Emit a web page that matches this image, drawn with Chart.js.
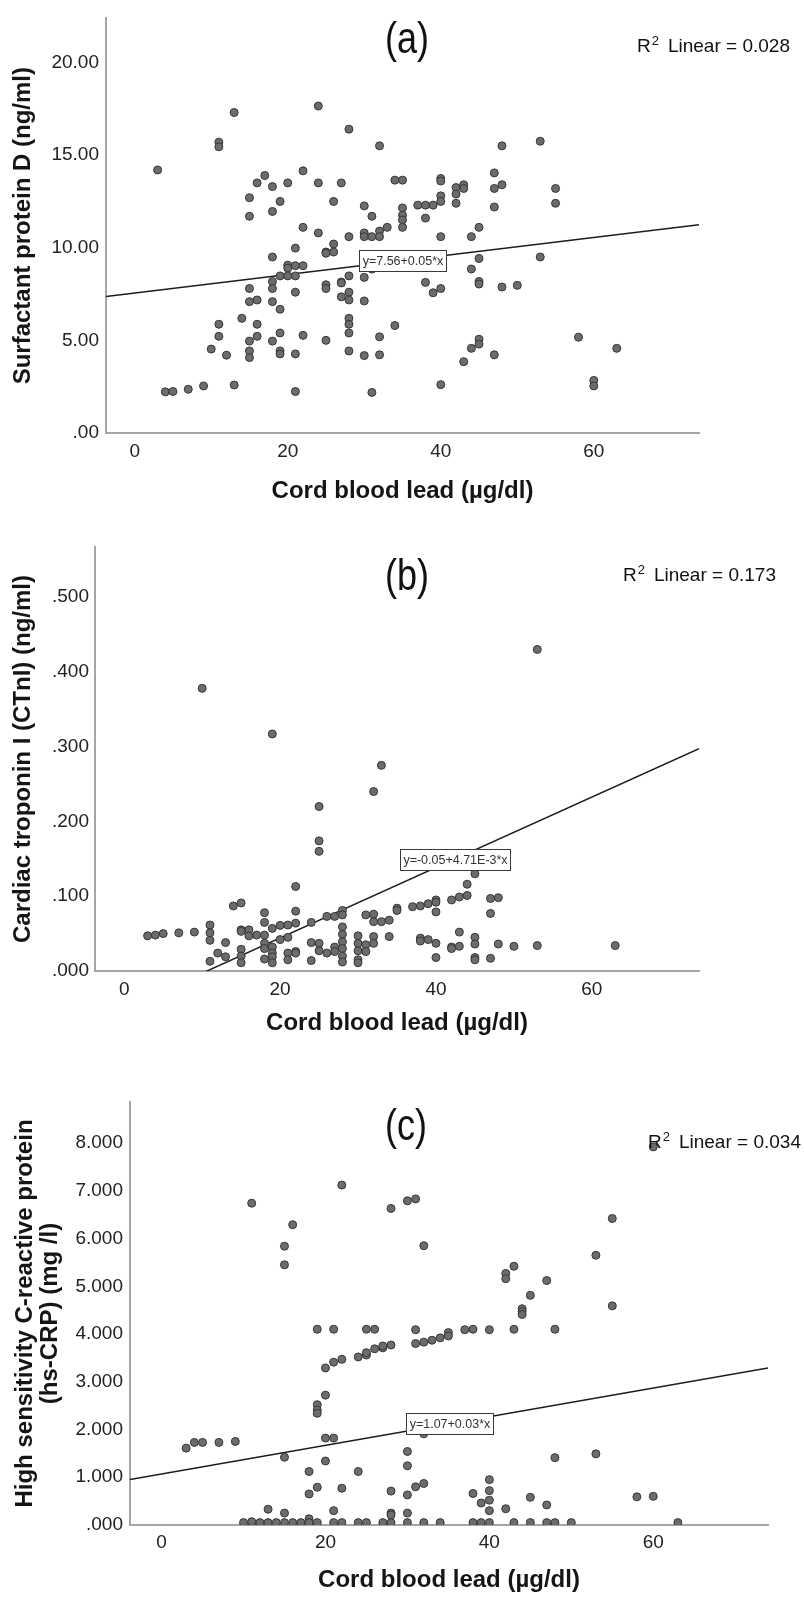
<!DOCTYPE html>
<html>
<head>
<meta charset="utf-8">
<script src="https://cdn.jsdelivr.net/npm/chart.js@4.4.1/dist/chart.umd.min.js"></script>
<style>
  html, body { margin: 0; padding: 0; background: #fff; }
  body { width: 804px; height: 1597px; position: relative; overflow: hidden; }
  .panel { position: absolute; left: 0; width: 804px; }
  canvas { display: block; }
</style>
</head>
<body>
<div class="panel" style="top:0"><canvas id="chartA" width="804" height="520"></canvas></div>
<div class="panel" style="top:520px"><canvas id="chartB" width="804" height="540"></canvas></div>
<div class="panel" style="top:1060px"><canvas id="chartC" width="804" height="537"></canvas></div>
<script>
// ---- data ----
const xTicks = [0, 20, 40, 60];

// (a) Surfactant protein D
const leadA = [3,4,5,7,9,10,11,11,11,11,12,13,13,14,15,15,15,15,15,15,15,16,16,16,16,17,18,18,18,18,18,18,18,
  19,19,19,19,19,19,20,20,20,20,21,21,21,21,21,21,22,22,22,22,24,24,24,25,25,25,25,25,26,26,26,27,27,27,27,
  28,28,28,28,28,28,28,28,28,30,30,30,30,30,30,31,31,31,31,32,32,32,32,32,33,34,34,35,35,35,35,35,37,38,38,38,
  39,39,40,40,40,40,40,40,40,42,42,42,43,43,43,44,44,44,45,45,45,45,45,45,47,47,47,47,48,48,48,50,53,53,55,55,
  58,60,60,63];
const surfactantD = [14.2,2.22,2.24,2.36,2.54,4.53,15.7,15.45,5.87,5.22,4.2,17.3,2.59,6.19,12.7,11.7,7.8,7.09,4.96,4.43,4.07,
  13.5,7.18,5.87,5.22,13.9,13.3,11.96,9.5,8.18,7.8,7.09,4.96,12.5,8.48,6.68,5.4,4.43,4.27,13.5,9.06,8.9,8.48,
  9.98,9.03,8.48,7.6,4.27,2.24,14.15,11.1,9.03,5.27,17.65,13.5,10.8,9.77,9.7,8.0,7.8,5.0,12.5,10.2,9.77,
  13.5,8.15,8.1,7.35,16.4,10.6,8.48,7.6,7.18,6.19,5.87,5.4,4.43,12.26,10.8,10.6,8.4,7.13,4.18,11.7,10.6,8.85,2.19,
  15.5,10.9,10.6,5.19,4.22,11.1,13.65,5.8,13.65,12.15,11.76,11.5,11.1,12.3,12.3,11.6,8.13,12.3,7.57,
  13.74,13.6,12.8,12.5,10.6,7.8,2.61,13.25,12.9,12.4,13.4,13.2,3.85,10.6,8.85,4.57,11.1,9.42,8.18,8.04,5.06,4.8,
  14.04,13.2,12.2,4.22,15.5,13.4,7.88,7.97,15.75,9.5,13.2,12.4,5.17,2.84,2.54,4.57];
const yTicksA = [0, 5, 10, 15, 20];
const yLabelsA = ['.00', '5.00', '10.00', '15.00', '20.00'];
const fitA = [7.56, 0.05];

// (b) Cardiac troponin I
const leadB = [3,4,5,7,9,10,11,11,11,11,12,13,13,14,15,15,15,15,15,15,16,16,17,18,18,18,18,18,18,
  19,19,19,19,19,19,20,20,21,21,21,21,22,22,22,22,22,24,24,24,25,25,25,25,25,26,26,27,27,27,
  28,28,28,28,28,28,28,28,30,30,30,30,30,31,31,31,32,32,32,32,32,33,33,34,34,35,35,37,38,38,38,39,39,
  40,40,40,40,40,42,42,42,43,43,43,44,44,45,45,45,45,45,47,47,47,48,48,50,53,53,63];
const troponinI = [0.047,0.048,0.050,0.051,0.052,0.378,0.0615,0.051,0.041,0.013,0.024,0.019,0.038,0.087,
  0.091,0.055,0.053,0.029,0.020,0.011,0.055,0.047,0.048,0.078,0.065,0.048,0.037,0.030,0.016,
  0.317,0.057,0.032,0.024,0.019,0.011,0.061,0.042,0.0615,0.045,0.024,0.015,0.113,0.080,0.064,0.026,0.024,
  0.065,0.038,0.014,0.22,0.174,0.160,0.037,0.027,0.073,0.024,0.073,0.032,0.026,
  0.081,0.075,0.059,0.049,0.039,0.030,0.020,0.012,0.047,0.037,0.027,0.015,0.011,0.075,0.035,0.026,
  0.24,0.076,0.066,0.046,0.037,0.275,0.066,0.068,0.046,0.084,0.081,0.086,0.087,0.044,0.040,0.090,0.042,
  0.095,0.092,0.079,0.037,0.018,0.095,0.032,0.030,0.099,0.052,0.033,0.116,0.101,0.130,0.045,0.036,0.018,0.015,
  0.097,0.077,0.017,0.098,0.036,0.033,0.43,0.034,0.034];
const yTicksB = [0, 0.1, 0.2, 0.3, 0.4, 0.5];
const yLabelsB = ['.000', '.100', '.200', '.300', '.400', '.500'];
const fitB = [-0.05, 0.00471];

// (c) hs-CRP
const leadC = [3,4,5,7,9,10,11,11,11,12,13,13,14,15,15,15,15,15,16,16,17,18,18,18,18,
  19,19,19,19,19,19,20,20,20,20,21,21,21,21,21,22,22,22,22,24,24,24,25,25,25,25,26,26,27,27,27,
  28,28,28,28,28,28,30,30,30,30,30,30,31,31,31,31,32,32,32,32,32,33,34,34,35,35,37,38,38,38,39,39,
  40,40,40,40,40,40,42,42,42,43,43,43,44,44,44,45,45,45,47,47,47,48,48,48,50,53,53,55,55,58,60,60,63];
const hsCRP = [1.61,1.73,1.73,1.73,1.75,0.05,6.74,0.05,0.07,0.05,0.33,0.05,0.05,5.84,5.45,1.42,0.25,0.05,6.29,0.05,0.05,
  1.12,0.65,0.13,0.05,4.10,2.52,2.41,2.34,0.79,0.05,3.29,2.72,1.82,1.34,4.10,3.41,1.82,0.30,0.05,
  7.12,3.47,0.77,0.05,3.52,1.12,0.05,4.10,3.56,3.61,0.05,4.10,3.69,3.71,3.75,0.05,
  6.63,3.77,0.71,0.25,0.21,0.05,6.79,1.54,1.24,0.63,0.25,0.05,6.83,4.09,3.80,0.80,5.85,3.83,1.91,0.87,0.05,
  3.87,3.92,0.05,4.03,3.96,4.09,4.10,0.66,0.05,0.46,0.05,4.09,0.95,0.72,0.52,0.30,0.05,5.27,5.16,0.34,
  5.42,4.10,0.05,4.53,4.47,4.41,4.81,0.58,0.05,5.12,0.42,0.05,4.10,1.41,0.05,0.05,5.65,1.49,6.42,4.59,
  0.59,7.92,0.60,0.05];
const yTicksC = [0, 1, 2, 3, 4, 5, 6, 7, 8];
const yLabelsC = ['.000', '1.000', '2.000', '3.000', '4.000', '5.000', '6.000', '7.000', '8.000'];
const fitC = [1.07, 0.03];

const fitLabels = ['y=7.56+0.05*x', 'y=-0.05+4.71E-3*x', 'y=1.07+0.03*x'];
const r2Values = ['0.028', '0.173', '0.034'];
const xTitle = 'Cord blood lead (\u00b5g/dl)';

Chart.defaults.font.family = '"Liberation Sans", Arial, sans-serif';
Chart.defaults.color = '#222';

// draws equation box, panel letter and R² note
const panelText = {
  id: 'panelText',
  afterDatasetsDraw(chart, args, o) {
    const { ctx, scales: { x, y } } = chart;
    const [a, b] = o.fit;
    const cx = x.getPixelForValue(o.labelX);
    const cy = y.getPixelForValue(a + b * o.labelX);
    ctx.save();
    ctx.font = '12.5px "Liberation Sans", Arial, sans-serif';
    const w = Math.round(ctx.measureText(o.eq).width + 6);
    const h = 21;
    const bx = Math.round(cx - w / 2), by = Math.round(cy - h / 2);
    ctx.fillStyle = '#fff';
    ctx.fillRect(bx, by, w, h);
    ctx.strokeStyle = '#3a3a3a';
    ctx.lineWidth = 1;
    ctx.strokeRect(bx + 0.5, by + 0.5, w, h);
    ctx.fillStyle = '#333';
    ctx.textAlign = 'center';
    ctx.textBaseline = 'middle';
    ctx.fillText(o.eq, bx + w / 2 + 0.5, by + h / 2 + 1);

    // panel letter
    ctx.textAlign = 'left';
    ctx.textBaseline = 'alphabetic';
    ctx.fillStyle = '#111';
    ctx.save();
    ctx.translate(o.letterPos[0], o.letterPos[1]);
    ctx.scale(1, 1.25);
    ctx.font = '36px "Liberation Sans", Arial, sans-serif';
    ctx.fillText(o.letter, 0, 0);
    ctx.restore();

    // R² Linear = ...
    let [rx, ry] = o.r2Pos;
    ctx.font = '19px "Liberation Sans", Arial, sans-serif';
    ctx.fillText('R', rx, ry);
    rx += ctx.measureText('R').width + 1;
    ctx.font = '13px "Liberation Sans", Arial, sans-serif';
    ctx.fillText('2', rx, ry - 7);
    rx += ctx.measureText('2').width + 9;
    ctx.font = '19px "Liberation Sans", Arial, sans-serif';
    ctx.fillText('Linear = ' + o.r2, rx, ry);
    ctx.restore();
  }
};

function makePanel(p) {
  const [a, b] = p.fit;
  new Chart(document.getElementById(p.id), {
    type: 'scatter',
    data: {
      datasets: [
        {
          data: p.x.map((v, i) => ({ x: v, y: p.y[i] })),
          pointRadius: 4,
          pointBackgroundColor: '#6c6c6c',
          pointBorderColor: '#363636',
          pointBorderWidth: 1
        },
        {
          type: 'line',
          data: [p.xMin, p.xMax].map(v => ({ x: v, y: a + b * v })),
          borderColor: '#1c1c1c',
          borderWidth: 1.5,
          pointRadius: 0,
          fill: false
        }
      ]
    },
    options: {
      responsive: false,
      animation: false,
      events: [],
      layout: { padding: { left: 0, top: p.area.top, right: 804 - p.area.right, bottom: 0 } },
      plugins: {
        legend: { display: false },
        tooltip: { enabled: false },
        panelText: {
          fit: p.fit, labelX: p.labelX, eq: p.eq, letter: p.letter,
          letterPos: p.letterPos, r2: p.r2, r2Pos: p.r2Pos
        }
      },
      scales: {
        x: {
          type: 'linear',
          min: p.xMin,
          max: p.xMax,
          grid: { display: false, drawTicks: false },
          border: { display: true, color: '#a5a5a5', width: 2 },
          afterBuildTicks: s => { s.ticks = xTicks.map(v => ({ value: v })); },
          ticks: { padding: p.xTickPad, font: { size: 19 }, color: '#222', maxRotation: 0, callback: v => String(v) },
          title: {
            display: true, text: xTitle, color: '#151515',
            font: { size: 24, weight: 'bold', lineHeight: 1.05 },
            padding: { top: 0, bottom: p.xTitlePad }
          },
          afterFit: s => { s.height = p.h - p.area.bottom; }
        },
        y: {
          type: 'linear',
          min: 0,
          max: p.yMax,
          grid: { display: false, drawTicks: false },
          border: { display: true, color: '#a5a5a5', width: 2 },
          afterBuildTicks: s => { s.ticks = p.yTicks.map(v => ({ value: v })); },
          ticks: { padding: p.yTickPad, font: { size: 19 }, color: '#222', callback: v => p.yLabels[p.yTicks.indexOf(v)] },
          title: {
            display: true, text: p.yTitle, color: '#151515',
            font: { size: 24, weight: 'bold', lineHeight: 1.05 },
            padding: { top: p.yTitlePad, bottom: 0 }
          },
          afterFit: s => { s.width = p.area.left; }
        }
      }
    },
    plugins: [panelText]
  });
}

makePanel({
  id: 'chartA', h: 520, x: leadA, y: surfactantD, fit: fitA, eq: fitLabels[0], r2: r2Values[0],
  yTicks: yTicksA, yLabels: yLabelsA, yMax: 22.38, xMin: -3.75, xMax: 73.75,
  area: { left: 106, right: 699, top: 10, bottom: 433 },
  xTickPad: 7, yTickPad: 7, xTitlePad: 16, yTitlePad: 11,
  yTitle: 'Surfactant protein D (ng/ml)', labelX: 35,
  letter: '(a)', letterPos: [385, 53], r2Pos: [637, 52]
});
makePanel({
  id: 'chartB', h: 540, x: leadB, y: troponinI, fit: fitB, eq: fitLabels[1], r2: r2Values[1],
  yTicks: yTicksB, yLabels: yLabelsB, yMax: 0.567, xMin: -3.75, xMax: 73.75,
  area: { left: 95, right: 699, top: 27, bottom: 451 },
  xTickPad: 7, yTickPad: 6, xTitlePad: 24, yTitlePad: 11,
  yTitle: 'Cardiac troponin I (CTnI) (ng/ml)', labelX: 42.4,
  letter: '(b)', letterPos: [385, 70], r2Pos: [623, 61]
});
makePanel({
  id: 'chartC', h: 537, x: leadC, y: hsCRP, fit: fitC, eq: fitLabels[2], r2: r2Values[2],
  yTicks: yTicksC, yLabels: yLabelsC, yMax: 8.86, xMin: -3.85, xMax: 74,
  area: { left: 130, right: 768, top: 42, bottom: 465 },
  xTickPad: 6, yTickPad: 7, xTitlePad: 4, yTitlePad: 13,
  yTitle: ['High sensitivity C-reactive protein', '(hs-CRP) (mg /l)'], labelX: 35.1,
  letter: '(c)', letterPos: [385, 80], r2Pos: [648, 88]
});
</script>
</body>
